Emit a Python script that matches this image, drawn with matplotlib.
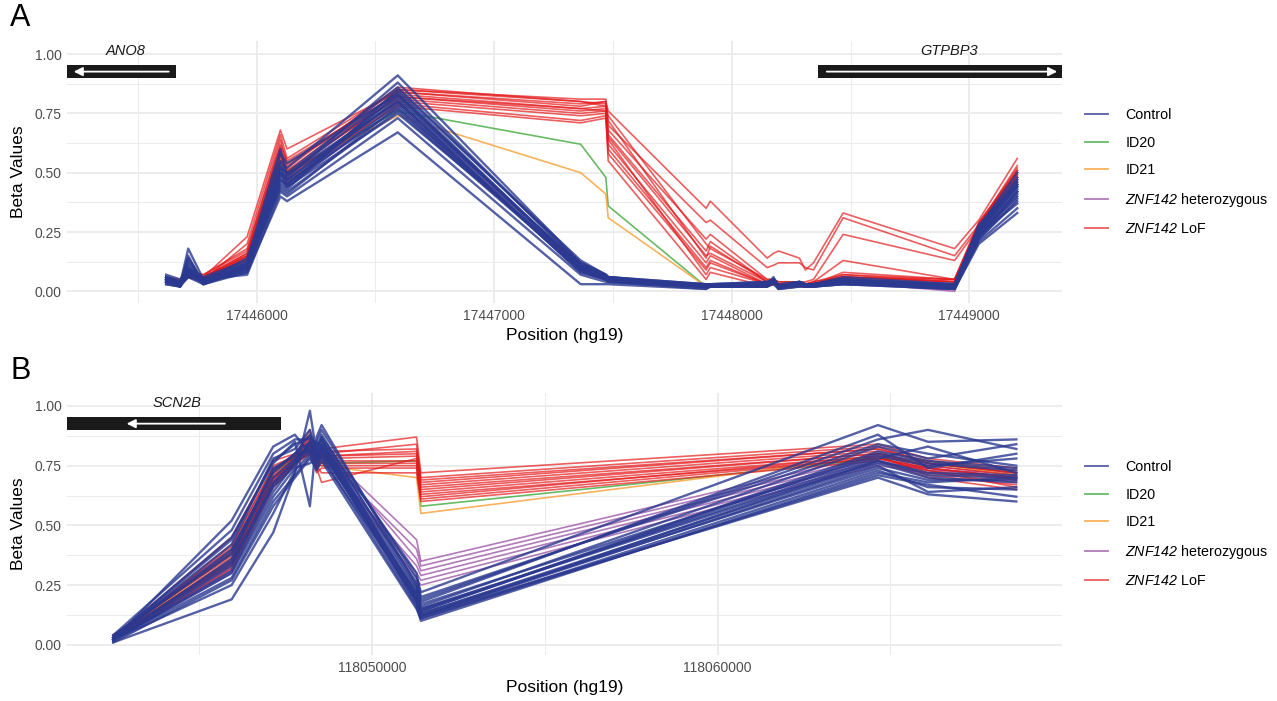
import numpy as np
import matplotlib.pyplot as plt
from matplotlib.patches import Rectangle
from matplotlib.lines import Line2D

plt.rcParams['font.family'] = ['Liberation Sans', 'DejaVu Sans']
# gene names inside legend labels are written as $\mathrm{...}$ and come out in italic
plt.rcParams['mathtext.fontset'] = 'custom'
plt.rcParams['mathtext.rm'] = 'Liberation Sans:italic'
plt.rcParams['mathtext.it'] = 'Liberation Sans:italic'

#%% panel A data (ANO8 / GTPBP3 region)
pos_a = [17445619, 17445678, 17445712, 17445776, 17445960, 17446100, 17446128, 17446594,
         17447364, 17447470, 17447480, 17447892, 17447910, 17448149, 17448176, 17448197,
         17448285, 17448310, 17448344, 17448469, 17448938, 17449040, 17449202]

control_a = [
    [0.06, 0.03, 0.18, 0.05, 0.12, 0.55, 0.52, 0.91, 0.12, 0.07, 0.06, 0.03, 0.03, 0.03, 0.06, 0.02, 0.04, 0.03, 0.03, 0.05, 0.03, 0.27, 0.50],
    [0.04, 0.02, 0.10, 0.03, 0.08, 0.40, 0.38, 0.67, 0.03, 0.03, 0.03, 0.01, 0.02, 0.02, 0.03, 0.01, 0.02, 0.02, 0.02, 0.03, 0.01, 0.20, 0.33],
    [0.05, 0.04, 0.14, 0.04, 0.11, 0.50, 0.48, 0.88, 0.11, 0.06, 0.06, 0.02, 0.02, 0.03, 0.05, 0.02, 0.03, 0.03, 0.03, 0.04, 0.02, 0.26, 0.47],
    [0.03, 0.02, 0.06, 0.03, 0.09, 0.44, 0.42, 0.76, 0.09, 0.05, 0.05, 0.02, 0.02, 0.02, 0.04, 0.02, 0.03, 0.02, 0.02, 0.03, 0.01, 0.22, 0.38],
    [0.07, 0.05, 0.09, 0.06, 0.13, 0.60, 0.49, 0.84, 0.10, 0.06, 0.05, 0.03, 0.03, 0.04, 0.05, 0.03, 0.04, 0.03, 0.03, 0.05, 0.03, 0.28, 0.45],
    [0.05, 0.03, 0.07, 0.04, 0.10, 0.46, 0.44, 0.79, 0.08, 0.05, 0.04, 0.02, 0.02, 0.03, 0.04, 0.01, 0.03, 0.02, 0.02, 0.04, 0.02, 0.24, 0.40],
    [0.04, 0.03, 0.12, 0.04, 0.14, 0.52, 0.50, 0.86, 0.12, 0.07, 0.06, 0.02, 0.03, 0.03, 0.05, 0.02, 0.04, 0.03, 0.03, 0.05, 0.02, 0.25, 0.44],
    [0.06, 0.04, 0.08, 0.05, 0.07, 0.42, 0.40, 0.73, 0.07, 0.04, 0.04, 0.02, 0.02, 0.03, 0.04, 0.02, 0.03, 0.02, 0.02, 0.04, 0.01, 0.21, 0.35],
    [0.03, 0.02, 0.15, 0.03, 0.11, 0.58, 0.54, 0.83, 0.10, 0.06, 0.05, 0.02, 0.02, 0.03, 0.05, 0.02, 0.03, 0.03, 0.03, 0.04, 0.02, 0.27, 0.48],
    [0.05, 0.03, 0.06, 0.04, 0.09, 0.47, 0.45, 0.81, 0.11, 0.06, 0.05, 0.02, 0.03, 0.03, 0.04, 0.02, 0.03, 0.03, 0.03, 0.05, 0.02, 0.23, 0.41],
    [0.04, 0.02, 0.11, 0.03, 0.12, 0.49, 0.46, 0.77, 0.09, 0.05, 0.04, 0.01, 0.02, 0.02, 0.05, 0.01, 0.02, 0.02, 0.02, 0.04, 0.01, 0.24, 0.37],
    [0.06, 0.04, 0.09, 0.05, 0.10, 0.45, 0.43, 0.85, 0.13, 0.07, 0.06, 0.03, 0.03, 0.04, 0.05, 0.02, 0.04, 0.03, 0.03, 0.06, 0.03, 0.26, 0.46],
    [0.05, 0.03, 0.07, 0.04, 0.08, 0.53, 0.47, 0.82, 0.10, 0.05, 0.05, 0.02, 0.02, 0.03, 0.04, 0.02, 0.03, 0.03, 0.03, 0.04, 0.02, 0.22, 0.39],
    [0.04, 0.03, 0.13, 0.04, 0.11, 0.43, 0.41, 0.78, 0.09, 0.06, 0.05, 0.02, 0.02, 0.03, 0.04, 0.02, 0.03, 0.02, 0.02, 0.04, 0.02, 0.25, 0.43],
    [0.05, 0.02, 0.08, 0.03, 0.10, 0.51, 0.47, 0.80, 0.08, 0.05, 0.04, 0.02, 0.02, 0.02, 0.04, 0.02, 0.03, 0.02, 0.02, 0.03, 0.02, 0.24, 0.42],
    [0.06, 0.04, 0.10, 0.05, 0.12, 0.48, 0.44, 0.75, 0.11, 0.06, 0.05, 0.02, 0.03, 0.03, 0.05, 0.02, 0.03, 0.03, 0.03, 0.05, 0.02, 0.26, 0.44],
    [0.04, 0.03, 0.09, 0.04, 0.10, 0.50, 0.45, 0.83, 0.10, 0.06, 0.05, 0.02, 0.02, 0.03, 0.04, 0.02, 0.03, 0.02, 0.03, 0.04, 0.02, 0.25, 0.45],
    [0.05, 0.03, 0.08, 0.04, 0.11, 0.54, 0.49, 0.80, 0.09, 0.05, 0.05, 0.02, 0.02, 0.03, 0.05, 0.02, 0.03, 0.03, 0.03, 0.05, 0.02, 0.23, 0.42],
]
id20_a = [[0.05, 0.04, 0.07, 0.05, 0.13, 0.53, 0.50, 0.76, 0.62, 0.48, 0.36, 0.02, 0.02, 0.02, 0.03, 0.02, 0.03, 0.02, 0.03, 0.04, 0.03, 0.28, 0.47]]
id21_a = [[0.05, 0.04, 0.07, 0.05, 0.14, 0.55, 0.51, 0.74, 0.50, 0.41, 0.31, 0.02, 0.02, 0.02, 0.03, 0.02, 0.03, 0.02, 0.03, 0.04, 0.03, 0.27, 0.46]]
het_a = [
    [0.05, 0.03, 0.08, 0.04, 0.11, 0.50, 0.47, 0.80, 0.11, 0.07, 0.06, 0.02, 0.02, 0.03, 0.04, 0.02, 0.03, 0.03, 0.03, 0.04, 0.00, 0.24, 0.42],
    [0.04, 0.03, 0.07, 0.04, 0.10, 0.47, 0.45, 0.77, 0.12, 0.07, 0.06, 0.02, 0.02, 0.03, 0.04, 0.02, 0.03, 0.02, 0.02, 0.04, 0.01, 0.23, 0.40],
    [0.06, 0.04, 0.09, 0.05, 0.12, 0.52, 0.50, 0.83, 0.10, 0.06, 0.05, 0.03, 0.03, 0.03, 0.05, 0.02, 0.03, 0.03, 0.03, 0.05, 0.02, 0.26, 0.45],
]
lof_a = [
    [0.05, 0.04, 0.07, 0.06, 0.23, 0.68, 0.60, 0.84, 0.79, 0.80, 0.76, 0.35, 0.38, 0.14, 0.16, 0.17, 0.14, 0.09, 0.12, 0.33, 0.18, 0.30, 0.56],
    [0.04, 0.03, 0.06, 0.05, 0.20, 0.66, 0.56, 0.85, 0.81, 0.81, 0.70, 0.29, 0.30, 0.10, 0.11, 0.12, 0.12, 0.10, 0.09, 0.31, 0.15, 0.28, 0.53],
    [0.06, 0.04, 0.08, 0.07, 0.18, 0.62, 0.55, 0.83, 0.77, 0.78, 0.68, 0.22, 0.24, 0.05, 0.05, 0.04, 0.04, 0.04, 0.05, 0.24, 0.13, 0.27, 0.51],
    [0.05, 0.03, 0.07, 0.06, 0.15, 0.58, 0.52, 0.86, 0.80, 0.79, 0.66, 0.17, 0.21, 0.04, 0.04, 0.03, 0.04, 0.03, 0.04, 0.13, 0.05, 0.29, 0.50],
    [0.04, 0.03, 0.06, 0.05, 0.14, 0.55, 0.50, 0.82, 0.76, 0.77, 0.62, 0.12, 0.15, 0.03, 0.04, 0.03, 0.03, 0.03, 0.03, 0.08, 0.05, 0.27, 0.49],
    [0.05, 0.04, 0.07, 0.06, 0.16, 0.60, 0.48, 0.80, 0.74, 0.75, 0.58, 0.09, 0.12, 0.03, 0.03, 0.02, 0.03, 0.03, 0.03, 0.07, 0.04, 0.26, 0.48],
    [0.06, 0.05, 0.08, 0.07, 0.17, 0.64, 0.54, 0.81, 0.75, 0.76, 0.64, 0.07, 0.10, 0.03, 0.04, 0.03, 0.03, 0.02, 0.03, 0.06, 0.04, 0.28, 0.52],
    [0.05, 0.04, 0.07, 0.06, 0.13, 0.52, 0.46, 0.79, 0.72, 0.74, 0.55, 0.05, 0.08, 0.02, 0.03, 0.02, 0.02, 0.02, 0.03, 0.05, 0.03, 0.26, 0.47],
    [0.04, 0.03, 0.06, 0.05, 0.15, 0.57, 0.51, 0.84, 0.78, 0.80, 0.72, 0.14, 0.19, 0.04, 0.05, 0.03, 0.04, 0.03, 0.04, 0.07, 0.05, 0.29, 0.51],
    [0.05, 0.04, 0.07, 0.06, 0.14, 0.56, 0.49, 0.78, 0.71, 0.73, 0.60, 0.10, 0.13, 0.03, 0.03, 0.02, 0.03, 0.02, 0.03, 0.06, 0.04, 0.27, 0.46],
    [0.05, 0.03, 0.06, 0.06, 0.16, 0.61, 0.53, 0.85, 0.80, 0.78, 0.74, 0.20, 0.18, 0.05, 0.05, 0.04, 0.04, 0.03, 0.04, 0.06, 0.04, 0.28, 0.50],
    [0.06, 0.04, 0.07, 0.06, 0.15, 0.59, 0.50, 0.82, 0.77, 0.76, 0.65, 0.15, 0.16, 0.04, 0.04, 0.03, 0.03, 0.03, 0.03, 0.06, 0.05, 0.27, 0.49],
]

genes_a = ['ANO8', 'GTPBP3']
gene_start_a = [17445150, 17448362]
gene_end_a = [17445662, 17449450]
arrow_from_a = [17445630, 17448400]
arrow_to_a = [17445230, 17449370]
label_x_a = [17445447, 17448917]

#%% panel B data (SCN2B region)
pos_b = [118042506, 118045932, 118047135, 118047763, 118048197, 118048391,
         118048536, 118051285, 118051409, 118064641, 118066088, 118068646]

control_b = [
    [0.02, 0.52, 0.83, 0.88, 0.80, 0.85, 0.90, 0.28, 0.22, 0.92, 0.85, 0.86],
    [0.01, 0.19, 0.47, 0.72, 0.98, 0.80, 0.78, 0.20, 0.12, 0.70, 0.63, 0.60],
    [0.03, 0.45, 0.76, 0.85, 0.58, 0.87, 0.92, 0.25, 0.18, 0.88, 0.74, 0.80],
    [0.04, 0.38, 0.70, 0.78, 0.82, 0.76, 0.80, 0.22, 0.15, 0.78, 0.83, 0.72],
    [0.02, 0.33, 0.66, 0.75, 0.85, 0.79, 0.83, 0.18, 0.13, 0.76, 0.70, 0.68],
    [0.03, 0.40, 0.72, 0.80, 0.88, 0.83, 0.86, 0.20, 0.14, 0.80, 0.76, 0.73],
    [0.02, 0.30, 0.62, 0.74, 0.76, 0.78, 0.82, 0.17, 0.11, 0.73, 0.66, 0.65],
    [0.03, 0.42, 0.78, 0.82, 0.90, 0.81, 0.88, 0.24, 0.16, 0.83, 0.78, 0.84],
    [0.01, 0.27, 0.58, 0.70, 0.78, 0.74, 0.79, 0.16, 0.10, 0.72, 0.68, 0.70],
    [0.02, 0.36, 0.74, 0.79, 0.83, 0.77, 0.84, 0.21, 0.15, 0.77, 0.72, 0.71],
    [0.04, 0.48, 0.80, 0.86, 0.86, 0.82, 0.87, 0.30, 0.20, 0.84, 0.80, 0.75],
    [0.02, 0.25, 0.55, 0.73, 0.80, 0.75, 0.81, 0.19, 0.12, 0.75, 0.64, 0.66],
    [0.03, 0.35, 0.68, 0.77, 0.84, 0.80, 0.85, 0.23, 0.17, 0.79, 0.75, 0.78],
    [0.02, 0.31, 0.64, 0.76, 0.81, 0.78, 0.83, 0.19, 0.13, 0.74, 0.69, 0.69],
    [0.03, 0.44, 0.77, 0.84, 0.87, 0.84, 0.86, 0.26, 0.19, 0.86, 0.90, 0.82],
    [0.02, 0.28, 0.60, 0.71, 0.79, 0.73, 0.77, 0.15, 0.11, 0.71, 0.67, 0.62],
    [0.03, 0.39, 0.73, 0.80, 0.85, 0.80, 0.84, 0.21, 0.14, 0.81, 0.77, 0.74],
    [0.02, 0.34, 0.67, 0.77, 0.82, 0.77, 0.82, 0.18, 0.12, 0.77, 0.71, 0.70],
]
id20_b = [[0.03, 0.38, 0.72, 0.78, 0.84, 0.76, 0.76, 0.77, 0.58, 0.78, 0.77, 0.72]]
id21_b = [[0.03, 0.36, 0.70, 0.77, 0.82, 0.75, 0.75, 0.70, 0.55, 0.79, 0.76, 0.71]]
het_b = [
    [0.03, 0.35, 0.70, 0.78, 0.84, 0.78, 0.82, 0.44, 0.35, 0.80, 0.76, 0.72],
    [0.02, 0.32, 0.68, 0.77, 0.82, 0.76, 0.80, 0.40, 0.33, 0.79, 0.75, 0.71],
    [0.03, 0.38, 0.72, 0.79, 0.85, 0.79, 0.83, 0.36, 0.31, 0.78, 0.74, 0.70],
    [0.02, 0.30, 0.66, 0.76, 0.80, 0.75, 0.79, 0.33, 0.29, 0.77, 0.73, 0.72],
    [0.03, 0.34, 0.69, 0.78, 0.83, 0.77, 0.81, 0.30, 0.27, 0.76, 0.74, 0.69],
    [0.02, 0.31, 0.67, 0.76, 0.81, 0.76, 0.80, 0.28, 0.25, 0.75, 0.72, 0.70],
]
lof_b = [
    [0.03, 0.45, 0.77, 0.80, 0.88, 0.78, 0.82, 0.87, 0.72, 0.84, 0.78, 0.74],
    [0.02, 0.42, 0.74, 0.78, 0.85, 0.76, 0.80, 0.84, 0.70, 0.83, 0.76, 0.72],
    [0.03, 0.40, 0.72, 0.79, 0.90, 0.77, 0.81, 0.82, 0.68, 0.82, 0.77, 0.73],
    [0.04, 0.38, 0.70, 0.77, 0.84, 0.75, 0.79, 0.80, 0.67, 0.81, 0.74, 0.70],
    [0.03, 0.36, 0.68, 0.76, 0.82, 0.74, 0.68, 0.78, 0.66, 0.80, 0.75, 0.71],
    [0.02, 0.35, 0.73, 0.80, 0.86, 0.79, 0.78, 0.79, 0.65, 0.80, 0.73, 0.69],
    [0.03, 0.33, 0.66, 0.75, 0.81, 0.73, 0.77, 0.77, 0.64, 0.79, 0.72, 0.68],
    [0.03, 0.41, 0.75, 0.79, 0.87, 0.78, 0.76, 0.76, 0.63, 0.78, 0.74, 0.70],
    [0.04, 0.37, 0.69, 0.77, 0.83, 0.76, 0.75, 0.75, 0.62, 0.79, 0.71, 0.67],
    [0.02, 0.32, 0.67, 0.76, 0.80, 0.72, 0.74, 0.74, 0.61, 0.78, 0.73, 0.66],
    [0.03, 0.39, 0.71, 0.78, 0.85, 0.77, 0.79, 0.81, 0.69, 0.82, 0.76, 0.72],
    [0.03, 0.34, 0.70, 0.76, 0.83, 0.75, 0.72, 0.72, 0.60, 0.77, 0.70, 0.65],
]

genes_b = ['SCN2B']
gene_start_b = [118040000]
gene_end_b = [118047350]
arrow_from_b = [118045738]
arrow_to_b = [118042893]
label_x_b = [118044358]

#%% styling
group_names = ['Control', 'ID20', 'ID21', r'$\mathrm{ZNF142}$ heterozygous', r'$\mathrm{ZNF142}$ LoF']
group_colors = ['#2B3990', '#4DAF4A', '#F7A541', '#984EA3', '#E41A1C']
group_alpha = [0.8, 0.85, 0.85, 0.75, 0.7]
group_lw = [1.7, 1.2, 1.2, 1.2, 1.2]
grid_col = '#EBEBEB'


def draw_panel(ax, pos, groups, xlim, ylim, xmajor, xminor,
               genes, g_start, g_end, a_from, a_to, lab_x):
    # background grid like theme_minimal
    for v in [0, 0.25, 0.5, 0.75, 1.0]:
        ax.axhline(v, color=grid_col, lw=1.3, zorder=0)
    for v in [0.125, 0.375, 0.625, 0.875]:
        ax.axhline(v, color=grid_col, lw=0.7, zorder=0)
    for v in xmajor:
        ax.axvline(v, color=grid_col, lw=1.3, zorder=0)
    for v in xminor:
        ax.axvline(v, color=grid_col, lw=0.7, zorder=0)

    # methylation lines; draw order purple, green, orange, red, blue
    for gi in [3, 1, 2, 4, 0]:
        for row in groups[gi]:
            ax.plot(pos, row, color=group_colors[gi], alpha=group_alpha[gi], lw=group_lw[gi], zorder=2)

    # gene track
    for g, s, e, af, at, lx in zip(genes, g_start, g_end, a_from, a_to, lab_x):
        ax.add_patch(Rectangle((s, 0.9), e - s, 0.055, facecolor='#1A1A1A', edgecolor='none', zorder=3))
        ax.annotate('', xy=(at, 0.926), xytext=(af, 0.926),
                    arrowprops=dict(arrowstyle='-|>', color='white', lw=1.3, mutation_scale=13,
                                    shrinkA=0, shrinkB=0), zorder=4)
        ax.text(lx, 1.012, g, style='italic', fontsize=10.5, ha='center', va='center', color='#1A1A1A', zorder=4)

    ax.set_xlim(*xlim)
    ax.set_ylim(*ylim)
    ax.set_xticks(xmajor)
    ax.set_xticklabels([str(v) for v in xmajor])
    ax.set_yticks([0, 0.25, 0.5, 0.75, 1.0])
    ax.set_yticklabels(['0.00', '0.25', '0.50', '0.75', '1.00'])
    ax.tick_params(length=0, labelsize=10, labelcolor='#4D4D4D', pad=4)
    for sp in ax.spines.values():
        sp.set_visible(False)
    ax.set_xlabel('Position (hg19)', fontsize=12.5, labelpad=4)
    ax.set_ylabel('Beta Values', fontsize=12.5, labelpad=6)

    handles = [Line2D([0], [0], color=c, lw=1.3, alpha=a) for c, a in zip(group_colors, group_alpha)]
    ax.legend(handles, group_names, loc='center left', bbox_to_anchor=(1.018, 0.5), frameon=False,
              fontsize=10.3, handlelength=1.6, handletextpad=1.2, labelspacing=0.95, borderaxespad=0)


fig = plt.figure(figsize=(12.77, 7.01), dpi=100)
ax_a = fig.add_axes([0.0527, 0.5673, 0.7787, 0.3742])
ax_b = fig.add_axes([0.0527, 0.0656, 0.7787, 0.3733])

draw_panel(ax_a, pos_a, [control_a, id20_a, id21_a, het_a, lof_a],
           (17445203, 17449389), (-0.0506, 1.055),
           [17446000, 17447000, 17448000, 17449000],
           [17445500, 17446500, 17447500, 17448500],
           genes_a, gene_start_a, gene_end_a, arrow_from_a, arrow_to_a, label_x_a)

draw_panel(ax_b, pos_b, [control_b, id20_b, id21_b, het_b, lof_b],
           (118041175, 118069959), (-0.043, 1.053),
           [118050000, 118060000],
           [118045000, 118055000, 118065000],
           genes_b, gene_start_b, gene_end_b, arrow_from_b, arrow_to_b, label_x_b)

fig.text(0.008, 0.953, 'A', fontsize=22, va='bottom', ha='left')
fig.text(0.008, 0.45, 'B', fontsize=22, va='bottom', ha='left')

fig.savefig('out.png', dpi=100)
